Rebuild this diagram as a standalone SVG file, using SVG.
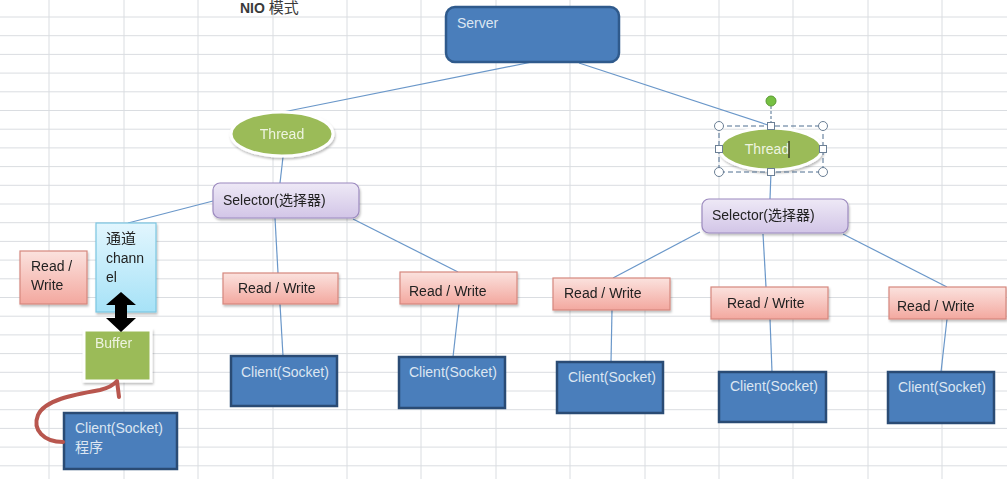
<svg xmlns="http://www.w3.org/2000/svg" width="1007" height="479" viewBox="0 0 1007 479">
<defs>
<linearGradient id="gSel" x1="0" y1="0" x2="0" y2="1"><stop offset="0" stop-color="#eee9f6"/><stop offset="1" stop-color="#d2c5e7"/></linearGradient>
<linearGradient id="gRW" x1="0" y1="0" x2="0" y2="1"><stop offset="0" stop-color="#fbe2de"/><stop offset="1" stop-color="#f3a89f"/></linearGradient>
<linearGradient id="gCh" x1="0" y1="0" x2="0" y2="1"><stop offset="0" stop-color="#e2f6fe"/><stop offset="1" stop-color="#a6e2f7"/></linearGradient>
<filter id="sh" x="-20%" y="-20%" width="140%" height="150%"><feDropShadow dx="1" dy="2" stdDeviation="1.2" flood-color="#000" flood-opacity="0.25"/></filter>
</defs>
<style>
.grid{stroke:#dadde1;stroke-width:1;fill:none}
.conn{stroke:#6a97c9;stroke-width:1.2;fill:none}
.blue{fill:#4a7ebb;stroke:#2a4b74;stroke-width:2.5}
.sel{fill:url(#gSel);stroke:#9c8abf;stroke-width:1.2}
.rw{fill:url(#gRW);stroke:#d6877e;stroke-width:1.2}
.th{fill:#9bbb59;stroke:#ffffff;stroke-width:3}
.t{font-family:"Liberation Sans","Noto Sans CJK SC",sans-serif;font-size:14px}
.lt{fill:#dce6f2}
.dk{fill:#222222}
.hd{fill:#ffffff;stroke:#6b7f95;stroke-width:1}
</style>
<rect x="0" y="0" width="1007" height="479" fill="#ffffff"/>
<g id="grid">
<path class="grid" d="M49,0V479M124,0V479M198,0V479M273,0V479M347,0V479M421,0V479M496,0V479M570,0V479M645,0V479M719,0V479M793,0V479M868,0V479M942,0V479"/>
<path class="grid" d="M0,17H1007M0,35.7H1007M0,54.4H1007M0,73.1H1007M0,91.8H1007M0,110.5H1007M0,129.2H1007M0,147.9H1007M0,166.6H1007M0,185.3H1007M0,204H1007M0,222.7H1007M0,241.4H1007M0,260.1H1007M0,278.8H1007M0,297.5H1007M0,316.2H1007M0,334.9H1007M0,353.6H1007M0,372.3H1007M0,391H1007M0,409.7H1007M0,428.4H1007M0,447.1H1007M0,465.8H1007"/>
</g>
<text x="240" y="13" class="t" style="font-size:14px;font-weight:bold" fill="#3a3a3a">NIO <tspan style="font-weight:normal;font-size:15px">模式</tspan></text>
<g id="connectors">
<path class="conn" d="M532,62L283,112"/>
<path class="conn" d="M579,63L771,126"/>
<path class="conn" d="M283,157L280,183"/>
<path class="conn" d="M771,172L770,199"/>
<path class="conn" d="M213,201L128,223"/>
<path class="conn" d="M275,218L278,273"/>
<path class="conn" d="M280,304L283,356"/>
<path class="conn" d="M353,219L458,272"/>
<path class="conn" d="M459,304L453,357"/>
<path class="conn" d="M700,232L613,278"/>
<path class="conn" d="M612,310L611,362"/>
<path class="conn" d="M763,234L766,287"/>
<path class="conn" d="M770,319L772,372"/>
<path class="conn" d="M843,234L947,287"/>
<path class="conn" d="M947,319L941,372"/>
</g>
<g id="server"><rect class="blue" x="446" y="7" width="173" height="55" rx="9" style="stroke:#2f5a8c"/><text x="457" y="28" class="t lt">Server</text></g>
<g id="thread1" filter="url(#sh)"><ellipse class="th" cx="282" cy="134" rx="51" ry="22"/><text x="282" y="139" class="t" fill="#eef4e0" text-anchor="middle">Thread</text></g>
<g id="thread2">
<ellipse class="th" cx="771" cy="149" rx="51" ry="21" filter="url(#sh)"/>
<text x="767" y="154" class="t" fill="#eef4e0" text-anchor="middle">Thread</text>
<path d="M789,141V158" stroke="#222" stroke-width="1.2"/>
<rect x="719" y="126" width="104" height="46" fill="none" stroke="#4f6f90" stroke-width="1" stroke-dasharray="5,3"/>
<path d="M771,106V126" stroke="#4f6f90" stroke-width="1" stroke-dasharray="3,2"/>
<circle cx="771" cy="101" r="5" fill="#76c043" stroke="#5a9a32"/>
<circle class="hd" cx="719" cy="126" r="4.5"/><circle class="hd" cx="823" cy="126" r="4.5"/><circle class="hd" cx="719" cy="172" r="4.5"/><circle class="hd" cx="823" cy="172" r="4.5"/>
<rect class="hd" x="767.5" y="122.5" width="7" height="7"/><rect class="hd" x="715.5" y="145.5" width="7" height="7"/><rect class="hd" x="819.5" y="145.5" width="7" height="7"/><rect class="hd" x="767.5" y="168.5" width="7" height="7"/>
</g>
<g id="selector1" filter="url(#sh)"><rect class="sel" x="213" y="183" width="146" height="35" rx="7"/><text x="223" y="205" class="t dk">Selector(选择器)</text></g>
<g id="selector2" filter="url(#sh)"><rect class="sel" x="702" y="199" width="146" height="34" rx="7"/><text x="712" y="220" class="t dk">Selector(选择器)</text></g>
<g id="rw0" filter="url(#sh)"><rect class="rw" x="20" y="251" width="67" height="53"/><text class="t dk"><tspan x="31" y="271">Read /</tspan><tspan x="31" y="290">Write</tspan></text></g>
<g id="channel" filter="url(#sh)"><rect x="96" y="223" width="60" height="89" fill="url(#gCh)" stroke="#7cc6e2" stroke-width="1.2"/><text class="t dk"><tspan x="106" y="244" style="font-size:15px">通道</tspan><tspan x="106" y="263">chann</tspan><tspan x="106" y="282">el</tspan></text></g>
<g id="buffer" filter="url(#sh)"><rect x="84" y="330" width="67" height="51" fill="#9bbb59" stroke="#ffffff" stroke-width="3"/><text x="95" y="348" class="t" fill="#eef4e0">Buffer</text></g>
<g id="arrow"><path d="M121,292L136,305L127,305L127,318L136,318L121,332L106,318L115,318L115,305L106,305Z" fill="#000000"/></g>
<g id="client0"><rect class="blue" x="64" y="413" width="113" height="56"/><text class="t lt"><tspan x="75" y="433">Client(Socket)</tspan><tspan x="75" y="452">程序</tspan></text></g>
<g id="curve"><path d="M63,442C44,442 32,430 38,415C45,400 72,395 100,390Q112,387 117,381L119,397" fill="none" stroke="#b8564e" stroke-width="4" stroke-linecap="round" stroke-linejoin="round"/></g>
<g id="rw1" filter="url(#sh)"><rect class="rw" x="223" y="273" width="115" height="31"/><text x="238" y="293" class="t dk">Read / Write</text></g>
<g id="rw2" filter="url(#sh)"><rect class="rw" x="400" y="272" width="117" height="32"/><text x="409" y="296" class="t dk">Read / Write</text></g>
<g id="rw3" filter="url(#sh)"><rect class="rw" x="553" y="278" width="117" height="32"/><text x="564" y="298" class="t dk">Read / Write</text></g>
<g id="rw4" filter="url(#sh)"><rect class="rw" x="711" y="287" width="117" height="32"/><text x="727" y="308" class="t dk">Read / Write</text></g>
<g id="rw5" filter="url(#sh)"><rect class="rw" x="889" y="287" width="117" height="32"/><text x="897" y="311" class="t dk">Read / Write</text></g>
<g id="client1"><rect class="blue" x="231" y="356" width="106" height="50"/><text x="241" y="377" class="t lt">Client(Socket)</text></g>
<g id="client2"><rect class="blue" x="399" y="357" width="106" height="51"/><text x="409" y="377" class="t lt">Client(Socket)</text></g>
<g id="client3"><rect class="blue" x="557" y="362" width="106" height="51"/><text x="568" y="382" class="t lt">Client(Socket)</text></g>
<g id="client4"><rect class="blue" x="719" y="372" width="107" height="50"/><text x="730" y="391" class="t lt">Client(Socket)</text></g>
<g id="client5"><rect class="blue" x="888" y="372" width="106" height="51"/><text x="898" y="392" class="t lt">Client(Socket)</text></g>
</svg>
